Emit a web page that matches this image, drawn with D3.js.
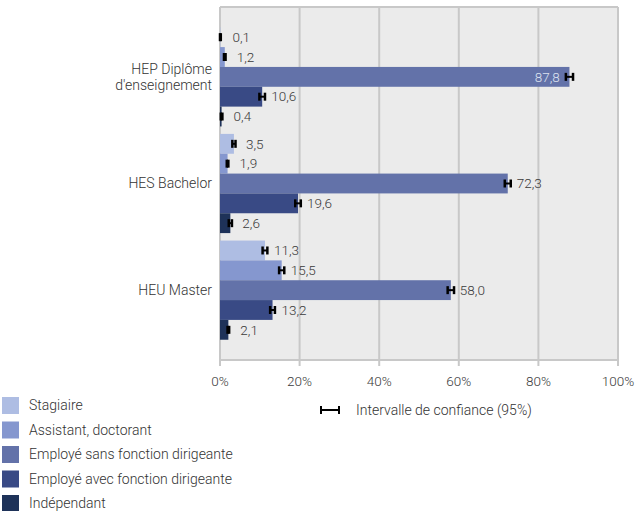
<!DOCTYPE html>
<html>
<head>
<meta charset="utf-8">
<script src="https://cdn.jsdelivr.net/npm/d3@7"></script>
<style>
  body { margin: 0; background: #fff; }
  svg { font-family: Roboto, "DejaVu Sans", sans-serif; font-weight: 300; }
</style>
</head>
<body>
<div id="chart"></div>
<script>
const categories = ["HEP Diplôme|d'enseignement", "HES Bachelor", "HEU Master"];
const seriesNames = ["Stagiaire", "Assistant, doctorant", "Employé sans fonction dirigeante", "Employé avec fonction dirigeante", "Indépendant"];
const colors = ["#aebde3", "#8597cf", "#6372a9", "#394a85", "#1e3259"];

// values in %, one array per series (HEP, HES, HEU)
const stagiaire    = [0.1, 3.5, 11.3];
const assistant    = [1.2, 1.9, 15.5];
const sansFonction = [87.8, 72.3, 58.0];
const avecFonction = [10.6, 19.6, 13.2];
const independant  = [0.4, 2.6, 2.1];

// half width of the 95% confidence interval
const ciStagiaire   = [0.1, 0.4, 0.6];
const ciAssistant   = [0.2, 0.2, 0.65];
const ciSans        = [0.9, 0.75, 0.8];
const ciAvec        = [0.7, 0.7, 0.6];
const ciIndependant = [0.2, 0.4, 0.2];

const xTicks = [0, 20, 40, 60, 80, 100];

const allValues = [stagiaire, assistant, sansFonction, avecFonction, independant];
const allCi = [ciStagiaire, ciAssistant, ciSans, ciAvec, ciIndependant];

const data = [];
categories.forEach((c, ci) => {
    seriesNames.forEach((s, si) => {
        data.push({cat: c, series: s, si: si, value: allValues[si][ci], ci: allCi[si][ci]});
    });
});

const width = 639;
const height = 511;
const margin = {top: 7, left: 220, bottom: 151, right: 21};

const x = d3.scaleLinear()
    .domain([0, 100])
    .range([margin.left, width - margin.right]);

const y = d3.scaleBand()
    .domain(categories)
    .range([margin.top, height - margin.bottom])
    .paddingInner(0.07)
    .paddingOuter(0.19);

const y1 = d3.scaleBand()
    .domain(seriesNames)
    .range([0, y.bandwidth()]);

const svg = d3.select('#chart').append('svg')
    .attr('width', width).attr('height', height);

// plot background
svg.append('rect')
    .attr('x', x(0)).attr('y', margin.top)
    .attr('width', x(100) - x(0)).attr('height', height - margin.bottom - margin.top)
    .attr('fill', '#ebebeb');

// grid + frame
const gridColor = '#c8c8c8';
svg.append('g')
    .selectAll('line').data(xTicks).enter().append('line')
    .attr('x1', d => x(d)).attr('x2', d => x(d))
    .attr('y1', margin.top).attr('y2', height - margin.bottom + 6)
    .attr('stroke', gridColor).attr('stroke-width', 2);
svg.append('line')
    .attr('x1', x(0)).attr('x2', x(100))
    .attr('y1', margin.top).attr('y2', margin.top)
    .attr('stroke', gridColor).attr('stroke-width', 2);
svg.append('line')
    .attr('x1', x(0)).attr('x2', x(100))
    .attr('y1', height - margin.bottom).attr('y2', height - margin.bottom)
    .attr('stroke', gridColor).attr('stroke-width', 2);

// x tick labels
svg.append('g')
    .selectAll('text').data(xTicks).enter().append('text')
    .attr('x', d => x(d)).attr('y', height - margin.bottom + 21)
    .attr('dy', '0.35em')
    .attr('text-anchor', 'middle')
    .attr('font-size', 13.5).attr('fill', '#3a3a3a')
    .text(d => d + '%');

// category labels
const catLabels = svg.append('g')
    .selectAll('text').data(categories).enter().append('text')
    .attr('text-anchor', 'end')
    .attr('font-size', 14).attr('fill', '#333');
catLabels.each(function(d) {
    const lines = d.split('|');
    const cy = y(d) + y.bandwidth() / 2;
    lines.forEach((l, i) => {
        d3.select(this).append('tspan')
            .attr('x', x(0) - 8)
            .attr('y', cy + (i - (lines.length - 1) / 2) * 16.5)
            .attr('dy', '0.35em')
            .text(l);
    });
});

// bars
svg.append('g')
    .selectAll('rect').data(data).enter().append('rect')
    .attr('x', x(0))
    .attr('y', d => y(d.cat) + y1(d.series))
    .attr('width', d => x(d.value) - x(0))
    .attr('height', y1.bandwidth())
    .attr('fill', d => colors[d.si]);

// error bars
const eb = svg.append('g')
    .selectAll('g').data(data).enter().append('g')
    .attr('transform', d => `translate(0, ${y(d.cat) + y1(d.series) + y1.bandwidth() / 2})`);
eb.append('line')
    .attr('x1', d => x(d.value - d.ci)).attr('x2', d => x(d.value + d.ci))
    .attr('y1', 0).attr('y2', 0)
    .attr('stroke', '#000').attr('stroke-width', 2);
eb.selectAll('line.cap').data(d => [d.value - d.ci, d.value + d.ci]).enter().append('line')
    .attr('class', 'cap')
    .attr('x1', d => x(d)).attr('x2', d => x(d))
    .attr('y1', -4).attr('y2', 4)
    .attr('stroke', '#000').attr('stroke-width', 2.5);

// value labels
const fmt = v => v.toFixed(1).replace('.', ',');
svg.append('g')
    .selectAll('text').data(data).enter().append('text')
    .attr('x', d => d.value > 80 ? x(d.value - d.ci) - 6 : x(d.value) + (d.value < 5 ? 12 : 9))
    .attr('y', d => y(d.cat) + y1(d.series) + y1.bandwidth() / 2)
    .attr('dy', '0.35em')
    .attr('text-anchor', d => d.value > 80 ? 'end' : 'start')
    .attr('font-size', 13.5)
    .attr('fill', d => d.value > 80 ? '#dde2f0' : '#3a3a3a')
    .text(d => fmt(d.value));

// legend
const legend = svg.append('g')
    .selectAll('g').data(seriesNames).enter().append('g')
    .attr('transform', (d, i) => `translate(2, ${397 + i * 24.5})`);
legend.append('rect')
    .attr('width', 17).attr('height', 17)
    .attr('fill', (d, i) => colors[i]);
legend.append('text')
    .attr('x', 27).attr('y', 8.5).attr('dy', '0.35em')
    .attr('font-size', 14).attr('fill', '#333')
    .text(d => d);

// confidence interval legend
const ciLeg = svg.append('g').attr('transform', 'translate(320, 410)');
ciLeg.append('line').attr('x1', 1).attr('x2', 19).attr('y1', 0).attr('y2', 0)
    .attr('stroke', '#000').attr('stroke-width', 2);
ciLeg.append('line').attr('x1', 1).attr('x2', 1).attr('y1', -4).attr('y2', 4)
    .attr('stroke', '#000').attr('stroke-width', 2);
ciLeg.append('line').attr('x1', 19).attr('x2', 19).attr('y1', -4).attr('y2', 4)
    .attr('stroke', '#000').attr('stroke-width', 2);
ciLeg.append('text').attr('x', 36).attr('y', 0).attr('dy', '0.35em')
    .attr('font-size', 14).attr('fill', '#333')
    .text('Intervalle de confiance (95%)');
</script>
</body>
</html>
